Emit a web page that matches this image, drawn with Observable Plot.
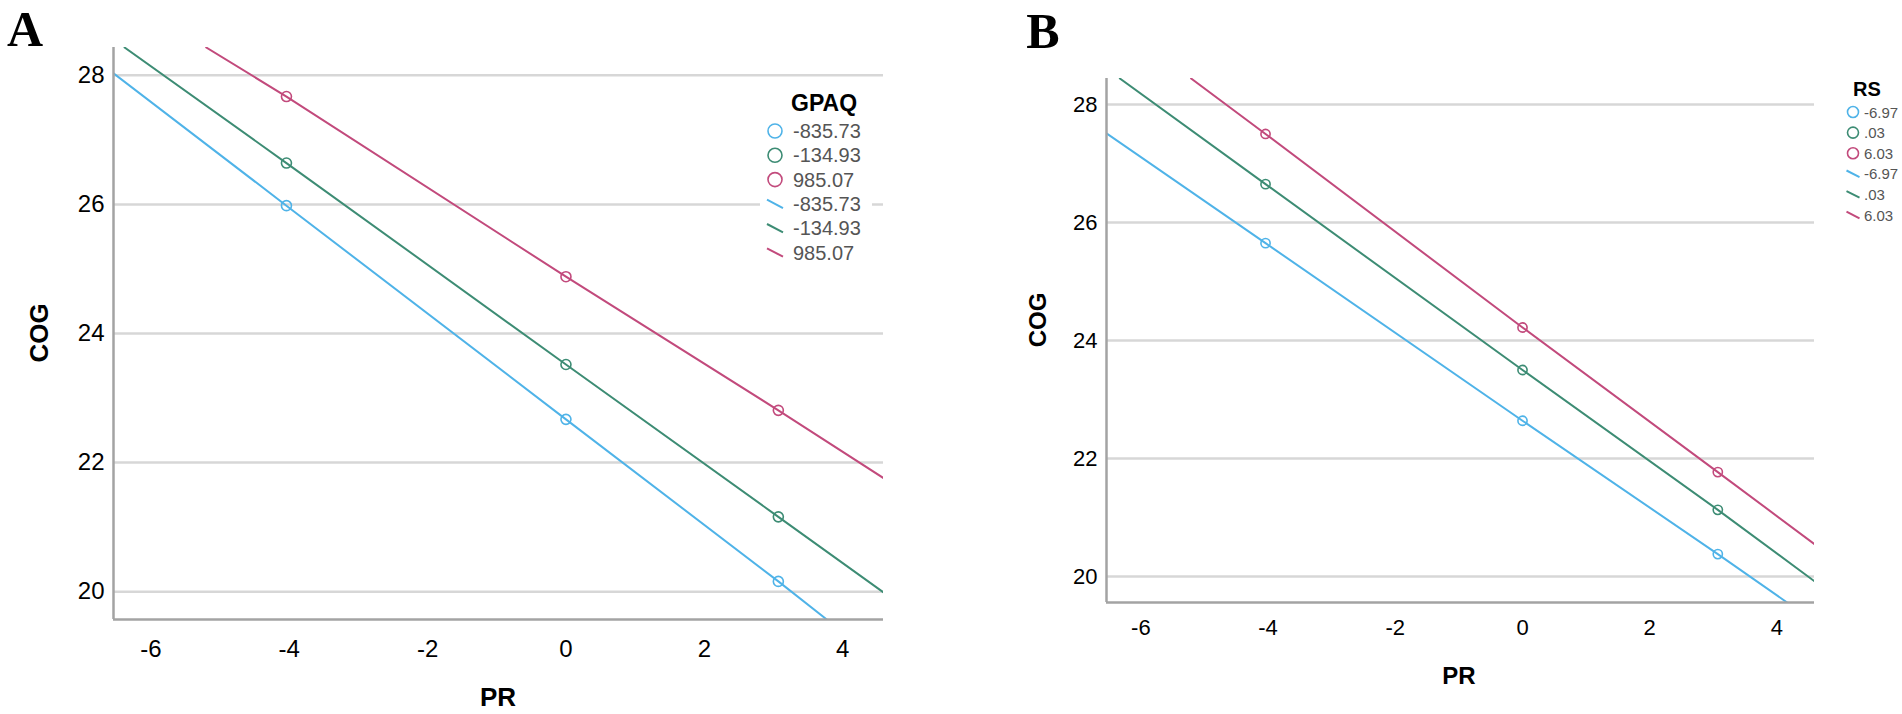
<!DOCTYPE html>
<html><head><meta charset="utf-8">
<script src="https://cdn.jsdelivr.net/npm/d3@7"></script>
<script src="https://cdn.jsdelivr.net/npm/@observablehq/plot@0.6"></script>
<style>
body{margin:0;background:#fff;}
#wrap{position:relative;width:1902px;height:714px;overflow:hidden;background:#fff;}
.pl{position:absolute;top:0;}
#ov{position:absolute;left:0;top:0;}
</style></head><body><div id="wrap"></div>
<script>
// ---- shared ----
const xTicks = [-6, -4, -2, 0, 2, 4];
const yTicks = [20, 22, 24, 26, 28];
const xDomain = [-6.54, 4.59];
const colors = ["#4fb3e8", "#3d8c74", "#c24a7c"];
const circleX = [-4.04, 0, 3.07];

// ---- Panel A: moderator GPAQ ----
const gpaqLevels = ["-835.73", "-134.93", "985.07"];
const aCircleY = [[25.98, 22.67, 20.16], [26.64, 23.52, 21.16], [27.67, 24.88, 22.81]];
const aStartX = [-6.54, -6.38, -5.20];
const aStartY = [28.03, 28.43, 28.43];
const aEndX = [3.77, 4.59, 4.59];
const aEndY = [19.57, 19.99, 21.76];
const aYDomain = [19.57, 28.43];

// ---- Panel B: moderator RS ----
const rsLevels = ["-6.97", ".03", "6.03"];
const bCircleY = [[25.65, 22.64, 20.38], [26.65, 23.50, 21.13], [27.50, 24.22, 21.77]];
const bStartX = [-6.54, -6.33, -5.21];
const bStartY = [27.51, 28.44, 28.44];
const bEndX = [4.16, 4.59, 4.59];
const bEndY = [19.56, 19.92, 20.55];
const bYDomain = [19.56, 28.44];

const FONT = '"Liberation Sans", Arial, sans-serif';

function panel(o) {
  const lineData = [], dotData = [];
  o.levels.forEach((lv, i) => {
    lineData.push({g: lv, x: o.startX[i], y: o.startY[i]});
    circleX.forEach((cx, j) => {
      lineData.push({g: lv, x: cx, y: o.circleY[i][j]});
      dotData.push({g: lv, x: cx, y: o.circleY[i][j]});
    });
    lineData.push({g: lv, x: o.endX[i], y: o.endY[i]});
  });
  return Plot.plot({
    width: o.width, height: o.height,
    marginLeft: o.ml, marginRight: o.mr, marginTop: o.mt, marginBottom: o.mb,
    style: {fontFamily: FONT, background: "transparent", color: "#000"},
    x: {domain: xDomain},
    y: {domain: o.yDomain},
    color: {domain: o.levels, range: colors},
    marks: [
      Plot.ruleY(yTicks, {stroke: "#d7d7d7", strokeWidth: 2.5}),
      Plot.line(lineData, {x: "x", y: "y", z: "g", stroke: "g", strokeWidth: 2, clip: true}),
      Plot.dot(dotData, {x: "x", y: "y", stroke: "g", r: o.r, strokeWidth: 1.6, fill: "none"}),
      Plot.ruleX([xDomain[0]], {stroke: "#a3a3a3", strokeWidth: 2.5}),
      Plot.ruleY([o.yDomain[0]], {stroke: "#a3a3a3", strokeWidth: 2.5}),
      Plot.axisY({ticks: yTicks, tickSize: 0, tickPadding: o.ypad, label: null, fontSize: o.fs, fill: "#000", tickFormat: d => String(d)}),
      Plot.axisX({ticks: xTicks, tickSize: 0, tickPadding: o.xpad, label: null, fontSize: o.fs, fill: "#000", tickFormat: d => String(d)})
    ]
  });
}

const wrap = document.getElementById("wrap");
const pa = panel({levels: gpaqLevels, circleY: aCircleY, startX: aStartX, startY: aStartY, endX: aEndX, endY: aEndY,
  yDomain: aYDomain, width: 900, height: 714, ml: 113, mr: 17, mt: 47, mb: 95, fs: 24, ypad: 9, xpad: 20, r: 5});
pa.classList.add("pl"); pa.style.left = "0px";
wrap.appendChild(pa);
const pb = panel({levels: rsLevels, circleY: bCircleY, startX: bStartX, startY: bStartY, endX: bEndX, endY: bEndY,
  yDomain: bYDomain, width: 951, height: 714, ml: 155, mr: 88, mt: 78, mb: 112, fs: 22, ypad: 9, xpad: 17, r: 4.6});
pb.classList.add("pl"); pb.style.left = "951px";
wrap.appendChild(pb);

// ---- overlay: panel letters, axis titles, legends ----
const ov = d3.select(wrap).append("svg").attr("id", "ov").attr("width", 1902).attr("height", 714)
  .style("font-family", FONT);

ov.append("text").attr("x", 7).attr("y", 46).attr("font-family", '"Liberation Serif","Times New Roman",serif')
  .attr("font-weight", "bold").attr("font-size", 50).text("A");
ov.append("text").attr("x", 1043).attr("y", 48).attr("text-anchor", "middle").attr("font-family", '"Liberation Serif","Times New Roman",serif')
  .attr("font-weight", "bold").attr("font-size", 50).text("B");

function axisTitles(cog, pr, fs) {
  ov.append("text").attr("transform", `translate(${cog[0]},${cog[1]}) rotate(-90)`).attr("text-anchor", "middle")
    .attr("dominant-baseline", "central").attr("font-weight", "bold").attr("font-size", fs).text("COG");
  ov.append("text").attr("x", pr[0]).attr("y", pr[1]).attr("text-anchor", "middle")
    .attr("dominant-baseline", "central").attr("font-weight", "bold").attr("font-size", fs).text("PR");
}
axisTitles([39, 333], [498, 697], 26);
axisTitles([1037, 320], [1459, 675], 24);

function legend(o) {
  const g = ov.append("g");
  if (o.box) g.append("rect").attr("x", o.box[0]).attr("y", o.box[1]).attr("width", o.box[2]).attr("height", o.box[3]).attr("fill", "#fff");
  g.append("text").attr("x", o.titleX).attr("y", o.titleY).attr("dominant-baseline", "central")
    .attr("font-weight", "bold").attr("font-size", o.titleSize).attr("fill", "#000").text(o.title);
  const rows = [];
  o.levels.forEach((lv, i) => rows.push({lv, i, kind: "circle"}));
  o.levels.forEach((lv, i) => rows.push({lv, i, kind: "line"}));
  rows.forEach((r, k) => {
    const y = o.firstY + k * o.step;
    if (r.kind === "circle") {
      g.append("circle").attr("cx", o.symX).attr("cy", y).attr("r", o.r).attr("fill", "none")
        .attr("stroke", colors[r.i]).attr("stroke-width", 1.6);
    } else {
      g.append("line").attr("x1", o.symX - o.r - 1).attr("y1", y - o.r * 0.6).attr("x2", o.symX + o.r + 1).attr("y2", y + o.r * 0.6)
        .attr("stroke", colors[r.i]).attr("stroke-width", 2);
    }
    g.append("text").attr("x", o.textX).attr("y", y).attr("dominant-baseline", "central")
      .attr("font-size", o.fontSize).attr("fill", "#555").text(r.lv);
  });
}
legend({title: "GPAQ", levels: gpaqLevels, box: [760, 86, 112, 180], titleX: 791, titleY: 103, titleSize: 23,
  firstY: 131, step: 24.3, symX: 775, r: 7, textX: 793, fontSize: 20});
legend({title: "RS", levels: rsLevels, box: null, titleX: 1853, titleY: 89, titleSize: 20,
  firstY: 112, step: 20.6, symX: 1853, r: 5.5, textX: 1864, fontSize: 15});
</script></body></html>
